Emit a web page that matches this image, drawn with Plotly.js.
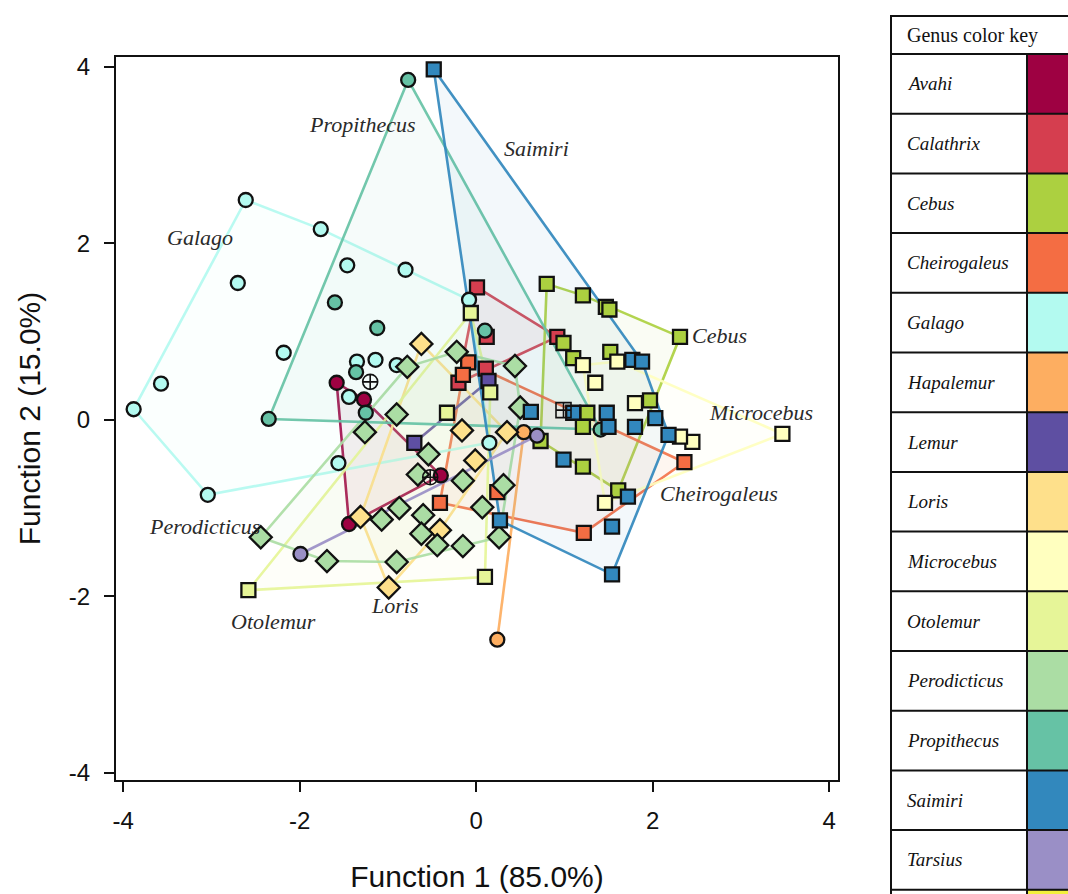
<!DOCTYPE html>
<html>
<head>
<meta charset="utf-8">
<script src="https://cdn.plot.ly/plotly-3.0.1.min.js"></script>
<style>
  html, body { margin: 0; padding: 0; background: #fff; }
  #chart { width: 1068px; height: 894px; }
</style>
</head>
<body>
<div id="chart"></div>
<script>
// Discriminant function scores (Function 1, Function 2) by genus
const genera = ['Avahi', 'Calathrix', 'Cebus', 'Cheirogaleus', 'Galago', 'Hapalemur', 'Lemur',
  'Loris', 'Microcebus', 'Otolemur', 'Perodicticus', 'Propithecus', 'Saimiri', 'Tarsius'];

const avahiX = [-1.58, -1.27, -0.40, -1.44];
const avahiY = [0.42, 0.23, -0.63, -1.18];

const calathrixX = [0.01, 0.92, 0.12, -0.20, 0.11];
const calathrixY = [1.50, 0.94, 0.94, 0.42, 0.58];

const cebusX = [0.80, 1.21, 1.47, 1.51, 2.31, 0.99, 1.10, 1.52, 1.97, 0.73, 1.21, 1.61, 1.26, 1.21];
const cebusY = [1.54, 1.41, 1.28, 1.25, 0.94, 0.87, 0.70, 0.77, 0.22, -0.24, -0.53, -0.80, 0.08, -0.08];

const cheirogaleusX = [-0.09, -0.15, 2.36, 1.22, -0.41, 0.24];
const cheirogaleusY = [0.65, 0.51, -0.48, -1.28, -0.94, -0.82];

const galagoX = [-2.61, -1.76, -1.46, -0.80, -2.70, -2.18, -3.57, -3.88, -3.04, -1.56, -1.35, -1.14, -0.90, -0.08, -1.44, 0.15];
const galagoY = [2.49, 2.16, 1.75, 1.70, 1.55, 0.76, 0.41, 0.12, -0.85, -0.49, 0.66, 0.68, 0.62, 1.36, 0.26, -0.26];

const hapalemurX = [0.24, 0.54];
const hapalemurY = [-2.49, -0.14];

const lemurX = [-0.70, 0.14];
const lemurY = [-0.26, 0.44];

const lorisX = [-0.62, -0.99, -0.41, -0.16, -0.01, -1.31, 0.35];
const lorisY = [0.86, -1.90, -1.25, -0.12, -0.46, -1.10, -0.14];

const microcebusX = [3.47, 2.45, 2.31, 1.46, 1.21, 1.60, 1.35, 1.80];
const microcebusY = [-0.16, -0.25, -0.19, -0.94, 0.62, 0.66, 0.42, 0.19];

const otolemurX = [-2.58, 0.10, -0.06, 0.16, -0.33];
const otolemurY = [-1.93, -1.78, 1.21, 0.31, 0.08];

const perodicticusX = [-2.44, -1.69, -0.90, -0.15, -0.78, -1.26, -0.90, -0.54, -0.66, -1.07, -0.87,
  -0.60, -0.62, -0.44, -0.22, 0.44, 0.50, 0.31, 0.07, 0.26, -0.15];
const perodicticusY = [-1.33, -1.60, -1.61, -1.43, 0.60, -0.14, 0.06, -0.39, -0.62, -1.13, -1.00,
  -1.08, -1.29, -1.42, 0.77, 0.61, 0.14, -0.74, -0.99, -1.33, -0.69];

const propithecusX = [-0.77, -1.60, -1.12, -2.35, -1.36, -1.25, 0.10, 1.41];
const propithecusY = [3.85, 1.33, 1.04, 0.01, 0.54, 0.08, 1.01, -0.11];

const saimiriX = [-0.48, 1.54, 1.54, 1.72, 0.27, 0.62, 0.99, 1.48, 1.50, 1.77, 1.88, 2.03, 2.18, 1.80, 1.10];
const saimiriY = [3.97, -1.75, -1.21, -0.87, -1.14, 0.09, -0.45, 0.08, -0.08, 0.68, 0.66, 0.02, -0.17, -0.08, 0.08];

const tarsiusX = [-1.99, 0.69];
const tarsiusY = [-1.52, -0.18];

// Specimens without a genus assignment
const unassignedCircleX = [-1.20, -0.52];
const unassignedCircleY = [0.43, -0.65];
const unassignedSquareX = [0.99];
const unassignedSquareY = [0.11];

// Hull label positions (data units)
const labelNames = ['Propithecus', 'Saimiri', 'Galago', 'Cebus', 'Microcebus', 'Cheirogaleus', 'Perodicticus', 'Otolemur', 'Loris'];
const labelX = [-1.29, 0.68, -3.13, 2.76, 3.23, 2.75, -3.08, -2.30, -0.93];
const labelY = [3.34, 3.07, 2.07, 0.96, 0.08, -0.83, -1.21, -2.29, -2.10];

// ---- styling ----
const genusColor = {
  Avahi: '#9e0142', Calathrix: '#d53e4f', Cebus: '#acd040', Cheirogaleus: '#f46d43',
  Galago: '#b3faf0', Hapalemur: '#fdae61', Lemur: '#5e4fa2', Loris: '#fee08b',
  Microcebus: '#ffffbf', Otolemur: '#e6f598', Perodicticus: '#abdda4', Propithecus: '#66c2a5',
  Saimiri: '#3288bd', Tarsius: '#9a8fc6'
};
const extraRowColor = '#f4f03c';
const genusSymbol = {
  Avahi: 'circle', Calathrix: 'square', Cebus: 'square', Cheirogaleus: 'square',
  Galago: 'circle', Hapalemur: 'circle', Lemur: 'square', Loris: 'diamond',
  Microcebus: 'square', Otolemur: 'square', Perodicticus: 'diamond', Propithecus: 'circle',
  Saimiri: 'square', Tarsius: 'circle'
};
const genusData = {
  Avahi: [avahiX, avahiY], Calathrix: [calathrixX, calathrixY], Cebus: [cebusX, cebusY],
  Cheirogaleus: [cheirogaleusX, cheirogaleusY], Galago: [galagoX, galagoY],
  Hapalemur: [hapalemurX, hapalemurY], Lemur: [lemurX, lemurY], Loris: [lorisX, lorisY],
  Microcebus: [microcebusX, microcebusY], Otolemur: [otolemurX, otolemurY],
  Perodicticus: [perodicticusX, perodicticusY], Propithecus: [propithecusX, propithecusY],
  Saimiri: [saimiriX, saimiriY], Tarsius: [tarsiusX, tarsiusY]
};

function rgba(hex, a) {
  const n = parseInt(hex.slice(1), 16);
  return `rgba(${(n >> 16) & 255},${(n >> 8) & 255},${n & 255},${a})`;
}

// Convex hull (monotone chain), returned as a closed ring
function convexHull(xs, ys) {
  const pts = xs.map((x, i) => [x, ys[i]]).sort((a, b) => a[0] - b[0] || a[1] - b[1]);
  if (pts.length < 3) return pts;
  const cross = (o, a, b) => (a[0] - o[0]) * (b[1] - o[1]) - (a[1] - o[1]) * (b[0] - o[0]);
  const lower = [];
  for (const p of pts) {
    while (lower.length >= 2 && cross(lower[lower.length - 2], lower[lower.length - 1], p) <= 0) lower.pop();
    lower.push(p);
  }
  const upper = [];
  for (let i = pts.length - 1; i >= 0; i--) {
    const p = pts[i];
    while (upper.length >= 2 && cross(upper[upper.length - 2], upper[upper.length - 1], p) <= 0) upper.pop();
    upper.push(p);
  }
  const ring = lower.slice(0, -1).concat(upper.slice(0, -1));
  ring.push(ring[0]);
  return ring;
}

const traces = [];
// hull polygons underneath
genera.forEach(g => {
  const [xs, ys] = genusData[g];
  const ring = convexHull(xs, ys);
  traces.push({
    type: 'scatter', mode: 'lines', x: ring.map(p => p[0]), y: ring.map(p => p[1]),
    fill: ring.length > 2 ? 'toself' : 'none', fillcolor: rgba(genusColor[g], 0.06),
    line: { color: rgba(genusColor[g], 0.92), width: 2.6 }, hoverinfo: 'skip', showlegend: false
  });
});
// specimen markers on top
genera.forEach(g => {
  const [xs, ys] = genusData[g];
  const sym = genusSymbol[g];
  traces.push({
    type: 'scatter', mode: 'markers', name: g, x: xs, y: ys, showlegend: false,
    marker: { symbol: sym, size: sym === 'diamond' ? 17 : 14, color: genusColor[g], line: { color: '#111', width: 2.3 } }
  });
});
traces.push({
  type: 'scatter', mode: 'markers', x: unassignedCircleX, y: unassignedCircleY, showlegend: false,
  marker: { symbol: 'circle-cross-open', size: 15, color: '#111', line: { width: 1.6 } }
});
traces.push({
  type: 'scatter', mode: 'markers', x: unassignedSquareX, y: unassignedSquareY, showlegend: false,
  marker: { symbol: 'square-cross-open', size: 15, color: '#111', line: { width: 1.6 } }
});

// plot area in pixels
const L = 116, R = 838, T = 57, B = 780;
const W = R - L, H = B - T;
const px = v => (v - L) / W;
const py = v => (B - v) / H;

const shapes = [];
const annotations = [];

// genus color key table
const tblLeft = 891, tblDiv = 1027, tblRight = 1075, tblTop = 16, headBottom = 54, rowH = 59.7;
const keyRows = genera.concat(['']);
const rowColors = genera.map(g => genusColor[g]).concat([extraRowColor]);
const serif = 'Liberation Serif, Times New Roman, serif';
keyRows.forEach((g, i) => {
  const y0 = headBottom + i * rowH, y1 = y0 + rowH;
  shapes.push({ type: 'rect', xref: 'paper', yref: 'paper', x0: px(tblDiv), x1: px(tblRight),
    y0: py(y1), y1: py(y0), fillcolor: rowColors[i], line: { width: 0 }, layer: 'above' });
  if (g) {
    annotations.push({ xref: 'paper', yref: 'paper', x: px(905), y: py((y0 + y1) / 2), xanchor: 'left', yanchor: 'middle',
      text: '<i>' + g + '</i>', showarrow: false, font: { family: serif, size: 19, color: '#111' } });
  }
});
annotations.push({ xref: 'paper', yref: 'paper', x: px(905), y: py(35), xanchor: 'left', yanchor: 'middle',
  text: 'Genus color key', showarrow: false, font: { family: serif, size: 20, color: '#111' } });
const tblLine = { color: '#111', width: 2 };
shapes.push({ type: 'rect', xref: 'paper', yref: 'paper', x0: px(tblLeft), x1: px(tblRight), y0: py(910), y1: py(tblTop), line: tblLine, layer: 'above' });
for (let i = 0; i <= keyRows.length; i++) {
  const yy = headBottom + i * rowH;
  shapes.push({ type: 'line', xref: 'paper', yref: 'paper', x0: px(tblLeft), x1: px(tblRight), y0: py(yy), y1: py(yy), line: tblLine, layer: 'above' });
}
shapes.push({ type: 'line', xref: 'paper', yref: 'paper', x0: px(tblDiv), x1: px(tblDiv), y0: py(headBottom), y1: py(910), line: tblLine, layer: 'above' });

// genus labels beside the hulls
labelNames.forEach((n, i) => {
  annotations.push({ x: labelX[i], y: labelY[i], xref: 'x', yref: 'y', text: '<i>' + n + '</i>', showarrow: false,
    font: { family: serif, size: 22, color: '#2a2a2a' } });
});

const sans = 'Arial, Liberation Sans, sans-serif';
const layout = {
  width: 1068, height: 894, autosize: false,
  margin: { l: L, r: 1068 - R, t: T, b: 894 - B, pad: 0 },
  paper_bgcolor: '#fff', plot_bgcolor: '#fff', showlegend: false,
  xaxis: {
    range: [-4.08, 4.1], tickvals: [-4, -2, 0, 2, 4], ticktext: ['-4', '-2', '0', '2', '4'],
    showgrid: false, zeroline: false, showline: true, mirror: true, linecolor: '#111', linewidth: 2,
    ticks: 'outside', ticklen: 10, tickwidth: 2, tickcolor: '#111', ticklabelstandoff: 8,
    tickfont: { family: sans, size: 24, color: '#111' },
    title: { text: 'Function 1 (85.0%)', standoff: 33, font: { family: sans, size: 30, color: '#111' } }
  },
  yaxis: {
    range: [-4.08, 4.11], tickvals: [-4, -2, 0, 2, 4], ticktext: ['-4', '-2', '0', '2', '4'],
    showgrid: false, zeroline: false, showline: true, mirror: true, linecolor: '#111', linewidth: 2,
    ticks: 'outside', ticklen: 10, tickwidth: 2, tickcolor: '#111', ticklabelstandoff: 9,
    tickfont: { family: sans, size: 24, color: '#111' },
    title: { text: 'Function 2 (15.0%)', standoff: 19, font: { family: sans, size: 30, color: '#111' } }
  },
  shapes: shapes,
  annotations: annotations
};

Plotly.newPlot('chart', traces, layout, { displayModeBar: false, staticPlot: true });
</script>
</body>
</html>
